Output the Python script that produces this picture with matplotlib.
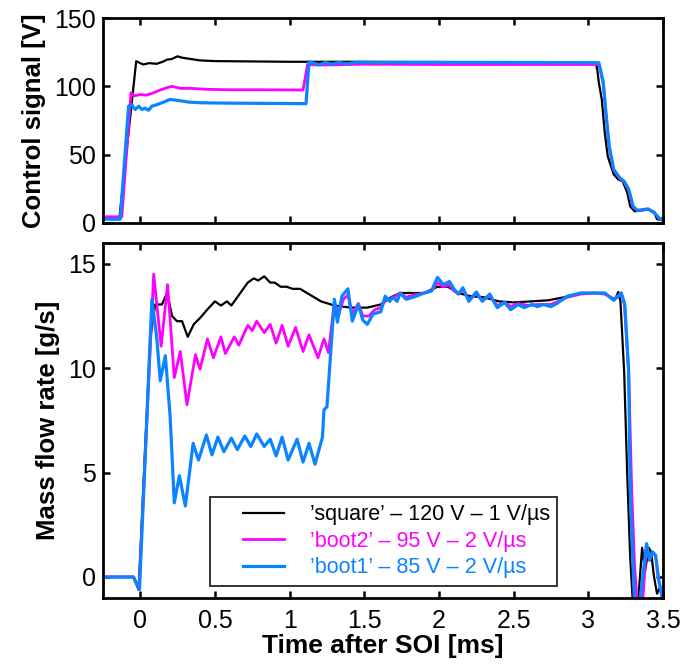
import matplotlib
matplotlib.use("Agg")
import matplotlib.pyplot as plt
from matplotlib.legend_handler import HandlerLine2D
from matplotlib.lines import Line2D

plt.rcParams["font.family"] = ["Liberation Sans", "DejaVu Sans"]

# --- control signal [V] ---
t_ctrl_square = [-0.25, -0.14, -0.027, 0.02, 0.06, 0.11, 0.15, 0.18, 0.21, 0.25, 0.28, 0.34, 0.4,
                 0.5, 0.7, 1.0, 1.5, 2.0, 2.5, 3.05, 3.06, 3.07, 3.09, 3.11, 3.13, 3.17, 3.2,
                 3.23, 3.26, 3.28, 3.31, 3.35, 3.4, 3.44, 3.46, 3.49, 3.51]
v_ctrl_square = [3.0, 3.0, 118.4, 116, 117, 116.5, 118, 119.6, 120, 122, 121, 120, 119,
                 118.5, 118.3, 118, 118, 117.8, 117.5, 117.2, 112, 103, 90.4, 66, 48.7, 35.5, 31.8,
                 30.4, 22.3, 12.1, 8.4, 9.0, 9.9, 7.7, 2.6, 2.0, 4.0]

t_ctrl_boot2 = [-0.25, -0.123, -0.062, -0.04, 0.0, 0.04, 0.09, 0.13, 0.18, 0.21, 0.27, 0.34, 0.45,
                0.6, 0.8, 1.09, 1.12, 1.2, 1.5, 2.0, 2.5, 3.07, 3.08, 3.1, 3.12, 3.14, 3.17, 3.21,
                3.24, 3.27, 3.3, 3.33, 3.4, 3.44, 3.48, 3.5]
v_ctrl_boot2 = [4.4, 4.4, 95.3, 93, 94, 93.5, 95.3, 97.2, 99, 100, 98.5, 98.5, 97.8,
                97.5, 97.5, 97.3, 116, 115.6, 116.2, 116, 116, 116, 112, 102, 77, 55, 38.5, 32.5,
                30, 24, 11.5, 8.8, 9.8, 7.4, 2.4, 3.2]

t_ctrl_boot1 = [-0.25, -0.134, -0.078, -0.056, -0.034, -0.01, 0.011, 0.03, 0.056, 0.078, 0.11,
                0.156, 0.2, 0.25, 0.33, 0.4, 0.5, 0.7, 1.0, 1.11, 1.13, 1.16, 1.2, 1.24, 1.28,
                1.33, 1.38, 1.45, 1.6, 2.0, 2.5, 3.07, 3.08, 3.1, 3.12, 3.14, 3.17, 3.21, 3.24,
                3.27, 3.3, 3.33, 3.4, 3.44, 3.48, 3.5]
v_ctrl_boot1 = [2.6, 2.6, 85.5, 86.5, 83, 85.5, 83, 84, 82.5, 85.5, 86.5,
                88.4, 90.4, 89.7, 88.4, 88, 87.8, 87.6, 87.4, 87.3, 118, 117, 115.8, 117.5, 116.2,
                117.5, 116.5, 117.6, 117.4, 117.6, 117.5, 117.3, 113, 102.8, 78, 56, 39, 33, 30.4,
                24.5, 12, 9.1, 10.2, 7.7, 2.6, 3.5]

# --- mass flow rate [g/s] ---
t_flow_square = [-0.25, -0.045, -0.011, 0.02, 0.067, 0.1, 0.145, 0.18, 0.213, 0.246, 0.28, 0.318,
                 0.358, 0.4, 0.448, 0.5, 0.54, 0.58, 0.61, 0.65, 0.72, 0.76, 0.79, 0.83, 0.87,
                 0.9, 0.94, 0.98, 1.02, 1.07, 1.14, 1.21, 1.3, 1.41, 1.52, 1.61, 1.68, 1.74,
                 1.83, 1.9, 1.99, 2.06, 2.13, 2.21, 2.3, 2.4, 2.5, 2.62, 2.73, 2.84, 2.95, 3.04,
                 3.11, 3.15, 3.18, 3.2, 3.215, 3.24, 3.26, 3.28, 3.3, 3.33, 3.36, 3.38, 3.405,
                 3.42, 3.44, 3.46, 3.48, 3.5]
q_flow_square = [0, 0, -0.62, 4.2, 11.4, 13.05, 13.05, 13.6, 12.5, 12.25, 12.25, 11.5,
                 12.1, 12.4, 12.8, 13.2, 13.0, 13.2, 13.0, 13.4, 14.1, 14.3, 14.2, 14.4, 14.1,
                 14.1, 13.9, 13.9, 13.8, 13.8, 13.5, 13.2, 13.0, 12.9, 12.9, 13.05, 13.4, 13.6,
                 13.6, 13.6, 13.9, 13.9, 13.6, 13.45, 13.4, 13.2, 13.15, 13.2, 13.25, 13.4, 13.6, 13.6,
                 13.6, 13.4, 13.3, 13.65, 13.2, 9.8, 5.0, 1.0, -1.5, -1.5, 1.4, 0.3, 1.4,
                 1.2, 0.0, -0.8, -0.5, -1.2]

t_flow_boot2 = [-0.25, -0.045, -0.008, 0.09, 0.14, 0.183, 0.228, 0.268, 0.313, 0.37, 0.4, 0.45,
                0.49, 0.54, 0.57, 0.63, 0.66, 0.72, 0.75, 0.78, 0.83, 0.87, 0.91, 0.95, 0.99,
                1.04, 1.09, 1.13, 1.19, 1.23, 1.26, 1.3, 1.33, 1.36, 1.39, 1.42, 1.46, 1.49,
                1.53, 1.57, 1.61, 1.65, 1.68, 1.74, 1.78, 1.83, 1.9, 1.95, 1.99, 2.03, 2.07,
                2.1, 2.13, 2.16, 2.2, 2.25, 2.29, 2.34, 2.39, 2.44, 2.48, 2.53, 2.6, 2.66,
                2.75, 2.86, 2.95, 3.04, 3.11, 3.17, 3.22, 3.24, 3.27, 3.29, 3.31, 3.33, 3.36,
                3.39, 3.41, 3.43, 3.45, 3.47, 3.5]
q_flow_boot2 = [0, 0, -0.6, 14.5, 11.05, 14.0, 9.55, 10.8, 8.25, 10.65, 9.95, 11.4,
                10.5, 11.5, 10.7, 11.5, 11.1, 12.05, 11.8, 12.25, 11.7, 12.1, 11.2, 12.05, 11.05,
                11.95, 10.8, 11.6, 10.5, 11.4, 10.75, 13.15, 12.6, 13.3, 13.5, 12.6, 13.1, 12.5,
                12.5, 12.8, 12.9, 13.35, 13.3, 13.6, 13.4, 13.5, 13.6, 13.7, 14.1, 13.9, 14.0,
                13.7, 13.55, 13.75, 13.3, 13.55, 13.25, 13.45, 13.0, 13.15, 12.95, 13.1, 13.0, 13.05,
                13.05, 13.4, 13.55, 13.6, 13.55, 13.3, 13.6, 13.2, 9.8, 4.2, 0.5, -1.5, -1.5,
                1.5, 0.8, 1.2, 1.0, -0.1, -1.2]

t_flow_boot1 = [-0.25, -0.045, -0.005, 0.078, 0.11, 0.134, 0.168, 0.2, 0.228, 0.262, 0.302,
                0.354, 0.39, 0.443, 0.48, 0.52, 0.56, 0.61, 0.65, 0.7, 0.74, 0.78, 0.83, 0.87,
                0.91, 0.95, 0.99, 1.05, 1.09, 1.13, 1.17, 1.22, 1.23, 1.25, 1.3, 1.32, 1.35,
                1.39, 1.42, 1.46, 1.49, 1.52, 1.56, 1.61, 1.64, 1.67, 1.69, 1.72, 1.74, 1.78,
                1.83, 1.9, 1.95, 1.99, 2.03, 2.07, 2.1, 2.13, 2.16, 2.2, 2.25, 2.29, 2.34, 2.39,
                2.44, 2.48, 2.53, 2.57, 2.62, 2.66, 2.7, 2.75, 2.79, 2.86, 2.95, 3.04, 3.11,
                3.17, 3.22, 3.245, 3.27, 3.28, 3.31, 3.34, 3.39, 3.41, 3.43, 3.45, 3.47, 3.5]
q_flow_boot1 = [0, 0, -0.6, 13.3, 11.5, 9.4, 10.6, 7.7, 3.55, 4.85, 3.4,
                6.4, 5.6, 6.8, 5.85, 6.7, 6.0, 6.65, 6.1, 6.75, 6.25, 6.85, 6.25, 6.6,
                5.8, 6.7, 5.6, 6.6, 5.5, 6.4, 5.4, 6.7, 8.0, 8.15, 13.3, 12.2, 13.45,
                13.8, 12.25, 13.05, 12.3, 12.1, 12.6, 12.7, 13.45, 13.2, 13.4, 13.2, 13.6, 13.3,
                13.4, 13.6, 13.7, 14.35, 14.0, 14.15, 13.8, 13.55, 13.85, 13.2, 13.65, 13.2, 13.55, 12.9,
                13.15, 12.8, 13.05, 12.9, 13.05, 12.95, 13.05, 12.95, 13.1, 13.45, 13.6, 13.6, 13.6,
                13.25, 13.6, 13.0, 9.8, 4.2, -1.5, -1.5, 1.6, 0.8, 1.2, 1.05, -0.1, -1.2]

labels = ["\u2019square\u2019 \u2013 120 V \u2013 1 V/\u00b5s",
          "\u2019boot2\u2019 \u2013 95 V \u2013 2 V/\u00b5s",
          "\u2019boot1\u2019 \u2013 85 V \u2013 2 V/\u00b5s"]
colors = ["black", "#ff00ff", "#0a84ff"]
widths = [1.6, 2.0, 2.3]

xticks = [0, 0.5, 1, 1.5, 2, 2.5, 3, 3.5]
xticklabels = ["0", "0.5", "1", "1.5", "2", "2.5", "3", "3.5"]


class ShortHandle(HandlerLine2D):
    # keep handle line on the right part of the handle box
    def create_artists(self, legend, orig_handle, xdescent, ydescent, width, height, fontsize, trans):
        arts = super().create_artists(legend, orig_handle, xdescent, ydescent, width, height, fontsize, trans)
        for a in arts:
            xd = a.get_xdata()
            a.set_xdata([x * 0.62 + width * 0.38 for x in xd])
        return arts


def style_axes(ax):
    for sp in ax.spines.values():
        sp.set_linewidth(2.0)
    ax.tick_params(direction="in", top=True, right=True, length=5, width=1.8, labelsize=18)
    ax.tick_params(axis="y", pad=5)
    ax.tick_params(axis="x", pad=8)
    ax.set_xlim(-0.25, 3.5)
    ax.set_xticks(xticks)


fig = plt.figure(figsize=(6.86, 6.71), dpi=100)
ax1 = fig.add_axes([0.150, 0.668, 0.8165, 0.305])
ax2 = fig.add_axes([0.150, 0.109, 0.8165, 0.529])

ctrl = [(t_ctrl_square, v_ctrl_square), (t_ctrl_boot2, v_ctrl_boot2), (t_ctrl_boot1, v_ctrl_boot1)]
flow = [(t_flow_square, q_flow_square), (t_flow_boot2, q_flow_boot2), (t_flow_boot1, q_flow_boot1)]

for (t, v), c, w in zip(ctrl, colors, widths):
    ax1.plot(t, v, color=c, lw=w, solid_joinstyle="round")
handles = []
for (t, q), c, w, lab in zip(flow, colors, widths, labels):
    h, = ax2.plot(t, q, color=c, lw=w, solid_joinstyle="round", label=lab)
    handles.append(h)

style_axes(ax1)
ax1.set_ylim(0, 150)
ax1.set_yticks([0, 50, 100, 150])
ax1.set_xticklabels([])
ax1.set_ylabel("Control signal [V]", fontsize=18.5, fontweight="bold", labelpad=6)

style_axes(ax2)
ax2.set_ylim(-1, 16)
ax2.set_yticks([0, 5, 10, 15])
ax2.set_xticklabels(xticklabels)
ax2.set_ylabel("Mass flow rate [g/s]", fontsize=18.5, fontweight="bold", labelpad=6)
ax2.set_xlabel("Time after SOI [ms]", fontsize=19, fontweight="bold", labelpad=1)

leg = ax2.legend(handles=handles, loc="lower left", bbox_to_anchor=(0.191, 0.034, 0.62, 0.25),
                 mode="expand", fontsize=15.5, frameon=True, fancybox=False, edgecolor="black",
                 borderpad=0.35, labelspacing=0.25, handlelength=3.1, handletextpad=1.2,
                 borderaxespad=0, handler_map={Line2D: ShortHandle()})
leg.get_frame().set_linewidth(1.4)
for txt, c in zip(leg.get_texts(), colors):
    txt.set_color(c)

fig.savefig("out.png", dpi=100)
